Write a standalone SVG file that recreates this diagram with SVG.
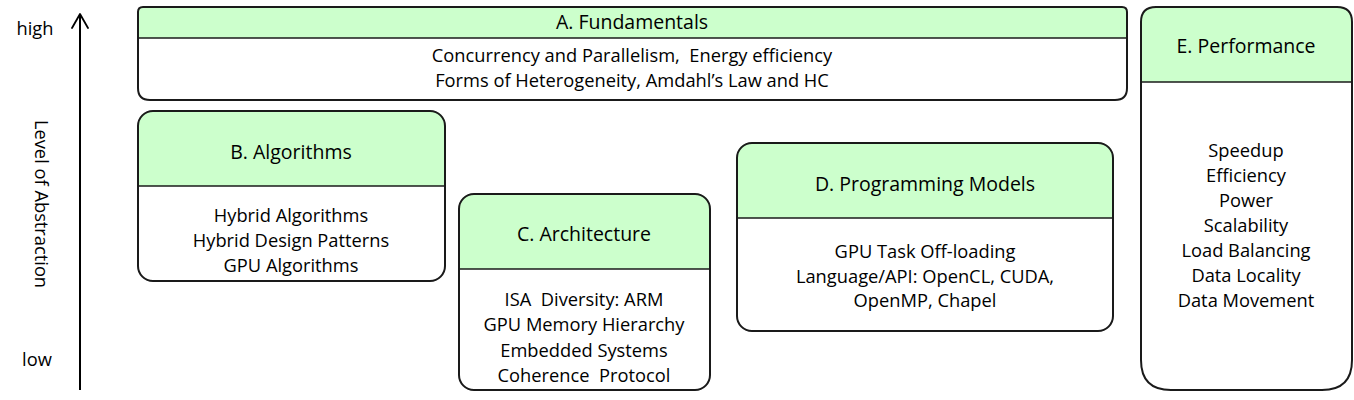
<svg xmlns="http://www.w3.org/2000/svg" width="1354" height="400" viewBox="0 0 1354 400">
<style>
  text { font-family: "Open Sans", "Liberation Sans", sans-serif; font-size: 18.3px; fill: #000; text-anchor: middle; white-space: pre; }
  .title { font-size: 19.5px; }
  .hdr { fill: #ccffcc; stroke: none; }
  .box { fill: none; stroke: #1a1a1a; stroke-width: 2; }
  .sep { stroke: #1a1a1a; stroke-width: 1.5; }
  .axis { stroke: #000; stroke-width: 2; fill: none; }
</style>
<defs>
  <marker id="open" markerWidth="20" markerHeight="20" refX="15" refY="9" orient="auto" markerUnits="userSpaceOnUse">
    <path d="M1,1 L15,9 L1,17" fill="none" stroke="#000" stroke-width="1.8" stroke-linejoin="round" stroke-linecap="round"/>
  </marker>
</defs>
<rect width="1354" height="400" fill="#fff"/>

<g id="axis">
  <line class="axis" x1="80" y1="390" x2="80" y2="14" marker-end="url(#open)"/>
  <text x="35" y="35" xml:space="preserve">high</text>
  <text x="37" y="366" xml:space="preserve">low</text>
  <text transform="translate(35,204) rotate(90)" xml:space="preserve">Level of Abstraction</text>
</g>

<g id="A">
  <path class="hdr" d="M143,7 H1122 Q1127,7 1127,12 V38 H138 V12 Q138,7 143,7 Z"/>
  <path class="box" d="M143,7 H1122 Q1127,7 1127,12 V88 Q1127,100 1115,100 H150 Q138,100 138,88 V12 Q138,7 143,7 Z"/>
  <line class="sep" x1="138" y1="38" x2="1127" y2="38"/>
  <text class="title" x="632" y="29" xml:space="preserve">A. Fundamentals</text>
  <text x="632" y="62" xml:space="preserve">Concurrency and Parallelism,  Energy efficiency</text>
  <text x="632" y="87" xml:space="preserve">Forms of Heterogeneity, Amdahl’s Law and HC</text>
</g>

<g id="B">
  <path class="hdr" d="M153,111 H430 Q445,111 445,126 V186 H138 V126 Q138,111 153,111 Z"/>
  <rect class="box" x="138" y="111" width="307" height="170" rx="15"/>
  <line class="sep" x1="138" y1="186" x2="445" y2="186"/>
  <text class="title" x="291" y="159" xml:space="preserve">B. Algorithms</text>
  <text x="291" y="222" xml:space="preserve">Hybrid Algorithms</text>
  <text x="291" y="247" xml:space="preserve">Hybrid Design Patterns</text>
  <text x="291" y="272" xml:space="preserve">GPU Algorithms</text>
</g>

<g id="C">
  <path class="hdr" d="M474,194 H695 Q710,194 710,209 V269 H459 V209 Q459,194 474,194 Z"/>
  <rect class="box" x="459" y="194" width="251" height="196" rx="15"/>
  <line class="sep" x1="459" y1="269" x2="710" y2="269"/>
  <text class="title" x="584" y="241" xml:space="preserve">C. Architecture</text>
  <text x="584" y="306" xml:space="preserve">ISA  Diversity: ARM</text>
  <text x="584" y="331" xml:space="preserve">GPU Memory Hierarchy</text>
  <text x="584" y="357" xml:space="preserve">Embedded Systems</text>
  <text x="584" y="382" xml:space="preserve">Coherence  Protocol</text>
</g>

<g id="D">
  <path class="hdr" d="M752,143 H1098 Q1113,143 1113,158 V218 H737 V158 Q737,143 752,143 Z"/>
  <rect class="box" x="737" y="143" width="376" height="188" rx="15"/>
  <line class="sep" x1="737" y1="218" x2="1113" y2="218"/>
  <text class="title" x="925" y="191" xml:space="preserve">D. Programming Models</text>
  <text x="925" y="258" xml:space="preserve">GPU Task Off-loading</text>
  <text x="925" y="283" xml:space="preserve">Language/API: OpenCL, CUDA,</text>
  <text x="925" y="307" xml:space="preserve">OpenMP, Chapel</text>
</g>

<g id="E">
  <path class="hdr" d="M1156,7 H1337 Q1352,7 1352,22 V82 H1141 V22 Q1141,7 1156,7 Z"/>
  <path class="box" d="M1156,7 H1337 Q1352,7 1352,22 V360 Q1352,390 1322,390 H1171 Q1141,390 1141,360 V22 Q1141,7 1156,7 Z"/>
  <line class="sep" x1="1141" y1="82" x2="1352" y2="82"/>
  <text class="title" x="1246" y="53" xml:space="preserve">E. Performance</text>
  <text x="1246" y="157" xml:space="preserve">Speedup</text>
  <text x="1246" y="182" xml:space="preserve">Efficiency</text>
  <text x="1246" y="207" xml:space="preserve">Power</text>
  <text x="1246" y="232" xml:space="preserve">Scalability</text>
  <text x="1246" y="257" xml:space="preserve">Load Balancing</text>
  <text x="1246" y="282" xml:space="preserve">Data Locality</text>
  <text x="1246" y="307" xml:space="preserve">Data Movement</text>
</g>
</svg>
